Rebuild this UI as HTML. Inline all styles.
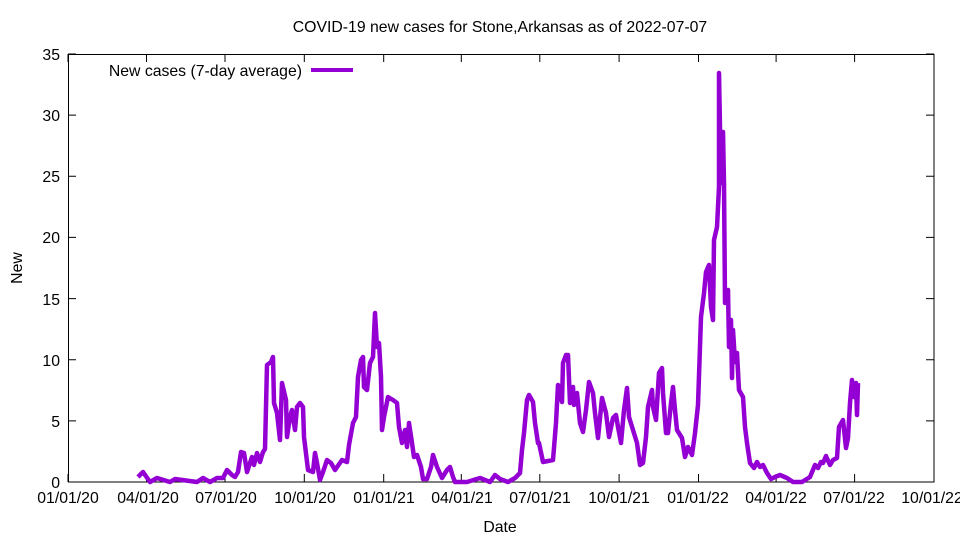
<!DOCTYPE html>
<html><head><meta charset="utf-8"><style>
html,body{margin:0;padding:0;background:#fff;}
svg{display:block;font-family:"Liberation Sans",sans-serif;}
</style></head><body>
<svg width="960" height="540" viewBox="0 0 960 540" xmlns="http://www.w3.org/2000/svg">
<rect width="960" height="540" fill="#fff"/>
<text x="500" y="32" font-size="15.8" text-anchor="middle">COVID-19 new cases for Stone,Arkansas as of 2022-07-07</text>
<g stroke="#000" stroke-width="1" fill="none">
<rect x="68.5" y="54.5" width="865.5" height="427.5"/>
<path d="M68 482h8M934 482h-8M68 420.9h8M934 420.9h-8M68 359.7h8M934 359.7h-8M68 298.6h8M934 298.6h-8M68 237.4h8M934 237.4h-8M68 176.3h8M934 176.3h-8M68 115.1h8M934 115.1h-8M68 54h8M934 54h-8"/>
<path d="M68 482v-8M68 54v8M146.5 482v-8M146.5 54v8M225 482v-8M225 54v8M304.3 482v-8M304.3 54v8M383.7 482v-8M383.7 54v8M461.3 482v-8M461.3 54v8M539.8 482v-8M539.8 54v8M619.1 482v-8M619.1 54v8M698.5 482v-8M698.5 54v8M776.1 482v-8M776.1 54v8M854.6 482v-8M854.6 54v8M934 482v-8M934 54v8"/>
</g>
<g font-size="15.8" text-anchor="end">
<text x="60" y="488">0</text><text x="60" y="427">5</text><text x="60" y="366">10</text><text x="60" y="305">15</text><text x="60" y="243">20</text><text x="60" y="182">25</text><text x="60" y="121">30</text><text x="60" y="60">35</text>
</g>
<g font-size="15.8" text-anchor="middle">
<text x="68" y="503">01/01/20</text><text x="148" y="503">04/01/20</text><text x="226" y="503">07/01/20</text><text x="305" y="503">10/01/20</text><text x="384" y="503">01/01/21</text><text x="462" y="503">04/01/21</text><text x="540" y="503">07/01/21</text><text x="619" y="503">10/01/21</text><text x="698" y="503">01/01/22</text><text x="776" y="503">04/01/22</text><text x="854" y="503">07/01/22</text><text x="932" y="503">10/01/22</text>
<text x="500" y="532">Date</text>
<text x="22" y="268" transform="rotate(-90 22 268)">New</text>
</g>
<text x="302" y="76" font-size="15.8" text-anchor="end">New cases (7-day average)</text>
<line x1="311" y1="70" x2="353" y2="70" stroke="#9400d3" stroke-width="4"/>
<polyline fill="none" stroke="#9400d3" stroke-width="4.5" stroke-linejoin="round" points="138,477 143,472 150,482 157,478 170,482 175,479 197,482 203,478 210,482 217,478 223,478 227,470 232,475 235,477 238,472 241,452 244,453 247,472 252,457 254,465 257,453 260,462 263,452 265,449 267,365 271,362 273,357 274,403 277,413 280,440 282,383 286,400 287,437 290,417 292,410 295,430 297,407 300,403 303,407 304,437 308,470 313,472 315,453 317,463 320,480 323,472 327,460 331,463 335,470 342,460 347,462 349,445 353,423 356,417 358,377 361,360 363,357 364,387 367,390 370,363 373,357 375,313 377,347 379,343 381,377 382,430 384,417 388,397 393,400 397,403 399,427 402,443 405,430 407,447 409,423 412,443 414,457 417,455 421,467 423,479 427,479 431,467 433,455 437,467 442,478 447,470 450,467 453,477 455,482 467,482 480,478 490,482 495,475 500,479 508,482 515,478 520,473 522,450 524,433 527,400 529,395 533,402 535,423 538,443 539,443 543,462 553,460 556,423 558,385 562,402 563,363 566,355 568,355 570,403 573,387 574,405 577,393 580,423 583,432 586,410 589,382 593,393 595,413 598,438 602,398 606,413 609,437 613,418 616,415 618,427 621,443 624,410 627,388 629,417 633,430 637,443 640,465 643,463 646,437 648,407 652,390 653,407 656,420 659,373 662,368 663,393 666,433 668,433 671,403 673,387 675,410 677,430 682,438 685,457 688,447 692,455 695,433 698,405 701,317 704,293 706,272 709,265 711,307 713,320 714,240 717,227 719,187 719,73 721,183 723,132 724,183 725,303 728,290 729,347 731,320 732,378 733,330 735,362 737,353 739,390 743,397 745,427 747,443 750,463 754,468 757,462 760,467 763,465 767,473 771,479 775,477 780,475 787,478 793,482 802,482 810,477 815,465 818,468 821,462 823,463 826,456 830,465 833,460 837,458 839,427 843,420 846,448 848,438 850,403 852,380 854,397 856,383 857,415 858,383"/>
</svg>
</body></html>
